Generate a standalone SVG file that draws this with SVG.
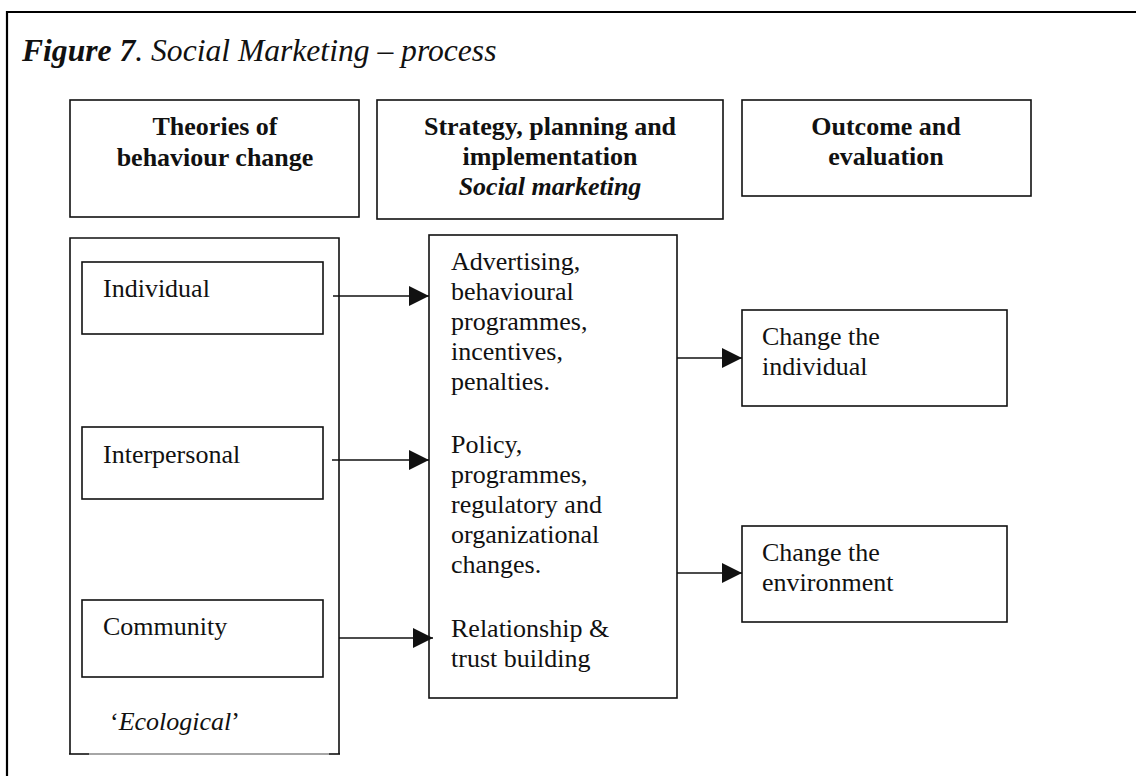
<svg xmlns="http://www.w3.org/2000/svg" width="1136" height="776" viewBox="0 0 1136 776">
<style>
  .box { fill: #fff; stroke: #111; stroke-width: 1.6; }
  .frame { fill: none; stroke: #000; stroke-width: 2.2; }
  .t { font-family: "Liberation Serif", "Times New Roman", serif; font-size: 26px; fill: #111; }
  .h { font-weight: bold; text-anchor: middle; }
  .i { font-style: italic; }
  .conn { stroke: #111; stroke-width: 1.6; fill: none; }
</style>
<defs>
  <marker id="arr" markerUnits="userSpaceOnUse" markerWidth="20" markerHeight="20" refX="20" refY="10" orient="auto">
    <path d="M0,0 L20,10 L0,20 Z" fill="#111"/>
  </marker>
</defs>
<rect width="1136" height="776" fill="#fff"/>
<g id="frame">
  <path class="frame" d="M7,776 V12 H1136"/>
  <text x="22" y="61" class="t" style="font-size:31.6px"><tspan font-weight="bold" font-style="italic">Figure 7</tspan><tspan font-style="italic">. Social Marketing – process</tspan></text>
</g>
<g id="header-theories">
  <rect class="box" x="70" y="100" width="289" height="117"/>
  <text class="t h" x="215" y="135">Theories of</text>
  <text class="t h" x="215" y="166">behaviour change</text>
</g>
<g id="header-strategy">
  <rect class="box" x="377" y="100" width="346" height="119"/>
  <text class="t h" x="550" y="135">Strategy, planning and</text>
  <text class="t h" x="550" y="165">implementation</text>
  <text class="t h i" x="550" y="195">Social marketing</text>
</g>
<g id="header-outcome">
  <rect class="box" x="742" y="100" width="289" height="96"/>
  <text class="t h" x="886" y="135">Outcome and</text>
  <text class="t h" x="886" y="165">evaluation</text>
</g>
<g id="ecological">
  <path class="conn" d="M70,754 V238 H339 V754"/>
  <line x1="69" y1="754" x2="89" y2="754" stroke="#111" stroke-width="1.6"/>
  <line x1="89" y1="754" x2="329" y2="754" stroke="#888" stroke-width="1.6"/>
  <line x1="329" y1="754" x2="340" y2="754" stroke="#111" stroke-width="1.6"/>
  <text class="t" x="110" y="730">‘<tspan font-style="italic">Ecological</tspan>’</text>
</g>
<g id="individual">
  <rect class="box" x="82" y="262" width="241" height="72"/>
  <text class="t" x="103" y="297">Individual</text>
</g>
<g id="interpersonal">
  <rect class="box" x="82" y="427" width="241" height="72"/>
  <text class="t" x="103" y="463">Interpersonal</text>
</g>
<g id="community">
  <rect class="box" x="82" y="600" width="241" height="77"/>
  <text class="t" x="103" y="635">Community</text>
</g>
<g id="strategy">
  <rect class="box" x="429" y="235" width="248" height="463"/>
  <text class="t" x="451" y="270">Advertising,</text>
  <text class="t" x="451" y="300">behavioural</text>
  <text class="t" x="451" y="330">programmes,</text>
  <text class="t" x="451" y="360">incentives,</text>
  <text class="t" x="451" y="390">penalties.</text>
  <text class="t" x="451" y="453">Policy,</text>
  <text class="t" x="451" y="483">programmes,</text>
  <text class="t" x="451" y="513">regulatory and</text>
  <text class="t" x="451" y="543">organizational</text>
  <text class="t" x="451" y="573">changes.</text>
  <text class="t" x="451" y="637">Relationship &amp;</text>
  <text class="t" x="451" y="667">trust building</text>
</g>
<g id="change-individual">
  <rect class="box" x="742" y="310" width="265" height="96"/>
  <text class="t" x="762" y="345">Change the</text>
  <text class="t" x="762" y="375">individual</text>
</g>
<g id="change-environment">
  <rect class="box" x="742" y="526" width="265" height="96"/>
  <text class="t" x="762" y="561">Change the</text>
  <text class="t" x="762" y="591">environment</text>
</g>
<g id="connectors">
  <line class="conn" x1="333" y1="296" x2="429" y2="296" marker-end="url(#arr)"/>
  <line class="conn" x1="332" y1="460" x2="429" y2="460" marker-end="url(#arr)"/>
  <line class="conn" x1="339" y1="638" x2="433" y2="638" marker-end="url(#arr)"/>
  <line class="conn" x1="677" y1="358" x2="742" y2="358" marker-end="url(#arr)"/>
  <line class="conn" x1="677" y1="573" x2="742" y2="573" marker-end="url(#arr)"/>
</g>
</svg>
